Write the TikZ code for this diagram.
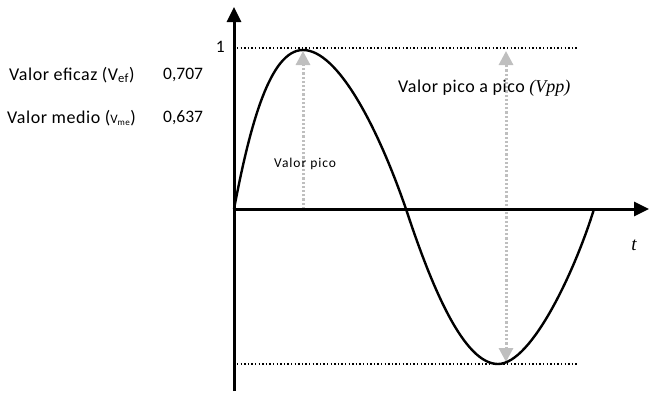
\documentclass[tikz,border=0pt]{standalone}
\usepackage{fontspec}
\setmainfont{Carlito}
\newfontfamily\spaced[LetterSpace=3]{Carlito}
\newfontfamily\spacedb[LetterSpace=7]{Carlito}
\newfontfamily\serifit{Liberation Serif}
\usetikzlibrary{arrows.meta}
\tikzset{
  axis/.style={line width=3pt,-{Triangle[width=14pt,length=15pt]}},
  wave/.style={line width=2.4pt},
  guide/.style={line width=1.4pt,dash pattern=on 1.4pt off 2.2pt},
  greyarrow/.style={line width=3pt,draw=black!25,dash pattern=on 2.2pt off 2pt,
     {Triangle[width=14pt,length=14pt,fill=black!25]}-{Triangle[width=14pt,length=14pt,fill=black!25]}},
  greyarrowone/.style={line width=3pt,draw=black!25,dash pattern=on 2.2pt off 2pt,
     -{Triangle[width=14pt,length=14pt,fill=black!25]}},
  lbl/.style={font=\fontsize{17.5}{19}\selectfont,inner sep=0pt},
  wlbl/.style={font=\spaced\fontsize{18}{20}\selectfont,inner sep=0pt},
  smalllbl/.style={font=\spacedb\fontsize{13.5}{15}\selectfont,inner sep=0pt}
}
\begin{document}
\begin{tikzpicture}[x=1pt,y=-1pt]
\useasboundingbox (0,0) rectangle (649,392);
% key points
\coordinate (O) at (234,209);
\coordinate (ybot) at (234,391);
\coordinate (ytop) at (234,7);
\coordinate (xend) at (649,209);
\coordinate (peak) at (303,50);
\coordinate (zero) at (406,209);
\coordinate (trough) at (498,364);
\coordinate (end) at (594,209);
\coordinate (topL) at (237,48);
\coordinate (topR) at (577,48);
\coordinate (botL) at (237,364);
\coordinate (botR) at (577,364);
\coordinate (pkbase) at (303,209);
\coordinate (pktip) at (303,51);
\coordinate (ppTop) at (506,51);
\coordinate (ppBot) at (506,362);
% guides
\draw[guide] (topL) -- (topR);
\draw[guide] (botL) -- (botR);
% grey arrows
\draw[greyarrowone] (pkbase) -- (pktip);
\draw[greyarrow] (ppBot) -- (ppTop);
% axes
\draw[axis] (ybot) -- (ytop);
\draw[axis] (O) -- (xend);
% wave
\draw[wave] (O) .. controls (250,125) and (270,50) .. (peak)
  .. controls (338,50) and (378,128) .. (zero)
  .. controls (432,288) and (464,364) .. (trough)
  .. controls (532,364) and (576,268) .. (end);
% labels
\node[lbl,anchor=east] (one) at (225,47) {1};
\node[wlbl,anchor=west] (vef) at (9,75) {Valor eficaz (V\textsubscript{ef})};
\node[lbl,anchor=west] (vefv) at (163,75) {0,707};
\node[wlbl,anchor=west] (vme) at (7,118) {Valor medio ({\fontsize{13}{14}\selectfont V\textsubscript{me}})};
\node[lbl,anchor=west] (vmev) at (163,118) {0,637};
\node[smalllbl,anchor=west] (vp) at (274,164) {Valor pico};
\node[wlbl,anchor=west] (vpp) at (398,88) {Valor pico a pico {\serifit\itshape (Vpp)}};
\node[lbl,anchor=center,font=\fontsize{19}{20}\selectfont] (t) at (634,245) {\serifit\itshape t};
\end{tikzpicture}
\end{document}
